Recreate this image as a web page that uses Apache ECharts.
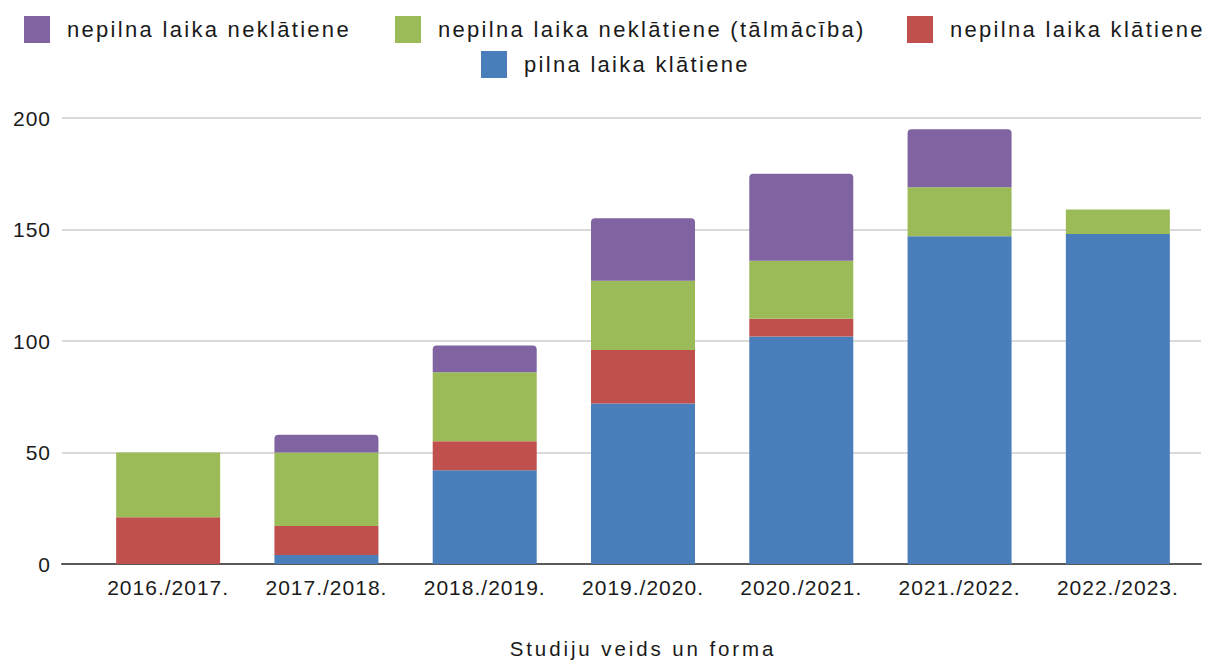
<!DOCTYPE html>
<html><head><meta charset="utf-8">
<script src="https://cdn.jsdelivr.net/npm/echarts@6/dist/echarts.min.js"></script>
<style>
html,body{margin:0;padding:0;background:#fff}
#c{width:1214px;height:666px}
#c text[style*="22px"]{letter-spacing:2.3px}
#c text[style*="20.5px"]{letter-spacing:2.9px}
#c text[style*="21px"]{letter-spacing:1px}
</style>
</head><body><div id="c"></div>
<script>
const categories = ['2016./2017.','2017./2018.','2018./2019.','2019./2020.','2020./2021.','2021./2022.','2022./2023.'];
const seriesNames = ['pilna laika klātiene','nepilna laika klātiene','nepilna laika neklātiene (tālmācība)','nepilna laika neklātiene'];
const pilnaKlatiene = [0, 4, 42, 72, 102, 147, 148];
const nepilnaKlatiene = [21, 13, 13, 24, 8, 0, 0];
const nepilnaTalmaciba = [29, 33, 31, 31, 26, 22, 11];
const nepilnaNeklatiene = [0, 8, 12, 28, 39, 26, 0];
const yTicks = {min: 0, max: 200, interval: 50};
const xTitle = 'Studiju veids un forma';

const colors = ['#4A7EBB', '#C0504D', '#9BBB59', '#8064A2'];
const values = [pilnaKlatiene, nepilnaKlatiene, nepilnaTalmaciba, nepilnaNeklatiene];
const font = 'Liberation Sans';
const textColor = '#1a1a1a';

function legendAt(name, left, top) {
  return {
    data: [name], left: left, top: top, itemWidth: 26, itemHeight: 27, itemGap: 0,
    icon: 'rect', selectedMode: false, padding: 0,
    textStyle: {fontFamily: font, fontSize: 22, color: textColor, padding: [0, 0, 0, 12]}
  };
}

const chart = echarts.init(document.getElementById('c'), null, {renderer: 'svg'});
chart.setOption({
  animation: false,
  color: colors,
  legend: [
    legendAt(seriesNames[3], 24, 16),
    legendAt(seriesNames[2], 395, 16),
    legendAt(seriesNames[1], 907, 16),
    legendAt(seriesNames[0], 481, 51)
  ],
  grid: [
    {left: 89, right: 17, top: 118, bottom: 102, outerBoundsMode: 'none'},
    {left: 62, right: 13, top: 118, bottom: 102, outerBoundsMode: 'none'}
  ],
  xAxis: [
    {type: 'category', gridIndex: 0, data: categories,
     axisLine: {show: false}, axisTick: {show: false},
     axisLabel: {fontFamily: font, fontSize: 21, color: textColor, margin: 13},
     name: xTitle, nameLocation: 'middle', nameGap: 74,
     nameTextStyle: {fontFamily: font, fontSize: 20.5, color: textColor, verticalAlign: 'top'}},
    {type: 'value', gridIndex: 1, min: 0, max: 1,
     axisLine: {show: true, lineStyle: {color: '#595959', width: 2}},
     axisTick: {show: false}, axisLabel: {show: false}, splitLine: {show: false}}
  ],
  yAxis: [
    {type: 'value', gridIndex: 0, min: yTicks.min, max: yTicks.max, interval: yTicks.interval,
     axisLine: {show: false}, axisTick: {show: false}, axisLabel: {show: false}, splitLine: {show: false}},
    {type: 'value', gridIndex: 1, min: yTicks.min, max: yTicks.max, interval: yTicks.interval,
     axisLine: {show: false}, axisTick: {show: false},
     axisLabel: {fontFamily: font, fontSize: 21, color: textColor, margin: 11},
     splitLine: {show: true, lineStyle: {color: '#d9d9d9', width: 2}}}
  ],
  series: values.map((v, i) => ({
    name: seriesNames[i], type: 'bar', stack: 'total', data: v,
    xAxisIndex: 0, yAxisIndex: 0, barWidth: 104, z: 3,
    itemStyle: {color: colors[i], borderRadius: i === 3 ? [4, 4, 0, 0] : 0}
  }))
});
</script></body></html>
